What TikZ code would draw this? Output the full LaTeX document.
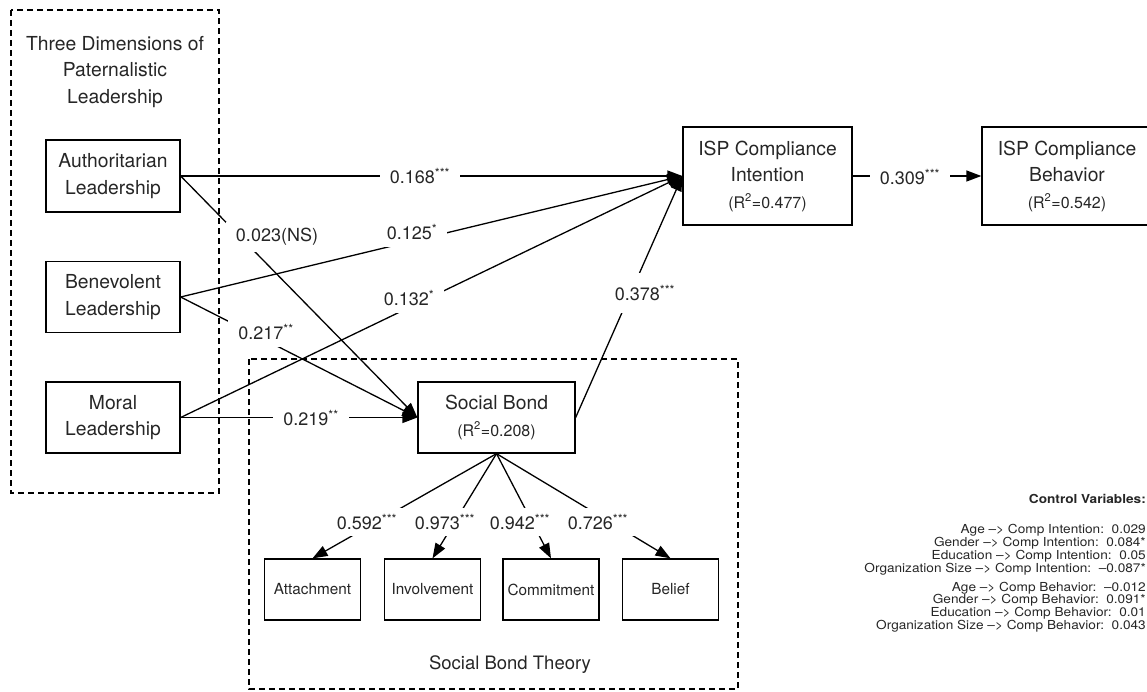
\documentclass[tikz,border=0pt]{standalone}
\usepackage{fontspec}
\usepackage{graphicx}
\setmainfont{TeX Gyre Heros}
\usetikzlibrary{arrows.meta}
\begin{document}
\begin{tikzpicture}[x=1pt,y=-1pt,
  every node/.style={text=black!85},
  box/.style={draw=black, line width=1.3pt, inner sep=0pt, align=center,
    font=\fontsize{19.3}{26.5}\selectfont},
  subbox/.style={draw=black, line width=1.3pt, minimum width=96pt, minimum height=61pt,
    inner sep=0pt, font=\fontsize{15.3}{18}\selectfont},
  path/.style={draw=black, line width=1.3pt, -{Triangle[length=15pt,width=11pt]}},
  lbl/.style={fill=white, inner xsep=10pt, inner ysep=0pt, minimum height=30pt,
    font=\fontsize{18}{20}\selectfont},
  group/.style={draw=black, line width=1.3pt, dash pattern=on 6pt off 4pt},
  ctrl/.style={anchor=east, inner sep=0pt, font=\fontsize{12.4}{12}\selectfont},
]
\useasboundingbox (0,0) rectangle (1147,692);

% grouping frames
\draw[group] (11,10) rectangle (219,493);
\draw[group] (249,359) rectangle (738,689);

% constructs
\node[box, minimum width=134pt, minimum height=72pt] (auth) at (113,176) {Authoritarian\\Leadership};
\node[box, minimum width=134pt, minimum height=71pt] (bene) at (113,297) {Benevolent\\Leadership};
\node[box, minimum width=134pt, minimum height=71pt] (moral) at (113,417.5) {Moral\\Leadership};
\node[box, minimum width=169pt, minimum height=98pt] (isi) at (767.5,176)
  {ISP Compliance\\Intention\\{\fontsize{16}{26.5}\selectfont (R\textsuperscript{2}=0.477)}};
\node[box, minimum width=170pt, minimum height=98pt] (isb) at (1067,176)
  {ISP Compliance\\Behavior\\{\fontsize{16}{26.5}\selectfont (R\textsuperscript{2}=0.542)}};
\node[box, minimum width=157pt, minimum height=71pt] (sb) at (496.5,417.5)
  {Social Bond\\{\fontsize{16}{25}\selectfont (R\textsuperscript{2}=0.208)}};

\node[subbox] (att) at (312.5,589.5) {Attachment};
\node[subbox] (inv) at (432.5,589.5) {Involvement};
\node[subbox] (com) at (551,589.5) {Commitment};
\node[subbox] (bel) at (670.5,589.5) {Belief};

% frame captions
\node[align=center, font=\fontsize{19.3}{26.5}\selectfont] (pltitle) at (115,72)
  {Three Dimensions of\\Paternalistic\\Leadership};
\node[font=\fontsize{18.5}{22}\selectfont] (sbtitle) at (510,665) {Social Bond Theory};

% structural paths
\draw[path] (auth.east) -- (isi.west);
\draw[path] (auth.east) -- (sb.west);
\draw[path] (bene.east) -- (isi.west);
\draw[path] (bene.east) -- (sb.west);
\draw[path] (moral.east) -- (isi.west);
\draw[path] (moral.east) -- (sb.west);
\draw[path] (sb.east) -- (isi.west);
\draw[path] (isi.east) -- (isb.west);

% measurement paths
\draw[path] (sb.south) -- (att.north);
\draw[path] (sb.south) -- (inv.north);
\draw[path] (sb.south) -- (com.north);
\draw[path] (sb.south) -- (bel.north);

% path coefficients
\node[lbl] (c1) at (420,176) {0.168\textsuperscript{***}};
\node[lbl] (c2) at (412,232) {0.125\textsuperscript{*}};
\node[lbl] (c3) at (409,298) {0.132\textsuperscript{*}};
\node[lbl] (c4) at (277,237) {0.023(NS)};
\node[lbl] (c5) at (266,332) {0.217\textsuperscript{**}};
\node[lbl] (c6) at (311,418) {0.219\textsuperscript{**}};
\node[lbl, minimum height=40pt] (c7) at (645,293) {0.378\textsuperscript{***}};
\node[lbl] (c8) at (910,177) {0.309\textsuperscript{***}};
\node[lbl, minimum height=28pt] (c9) at (367,522) {0.592\textsuperscript{***}};
\node[lbl, minimum height=28pt] (c10) at (445,522) {0.973\textsuperscript{***}};
\node[lbl, minimum height=28pt] (c11) at (520,522) {0.942\textsuperscript{***}};
\node[lbl, minimum height=28pt] (c12) at (598,522) {0.726\textsuperscript{***}};

% control variables
\node[ctrl, font=\bfseries\fontsize{12.4}{12}\selectfont] (cvh) at (1146,499)
  {\scalebox{1.1}[1]{Control Variables:}};
\node[ctrl] (cv1) at (1146,550) {\scalebox{1.1}[1]{\renewcommand\arraystretch{1}%
  \begin{tabular}{@{}r@{}}
  Age –> Comp Intention:~~0.029\\
  Gender –> Comp Intention:~~0.084*\\
  Education –> Comp Intention:~~0.05\\
  Organization Size –> Comp Intention:~~–0.087*
  \end{tabular}}};
\node[ctrl] (cv2) at (1146,607.5) {\scalebox{1.1}[1]{\renewcommand\arraystretch{1}%
  \begin{tabular}{@{}r@{}}
  Age –> Comp Behavior:~~–0.012\\
  Gender –> Comp Behavior:~~0.091*\\
  Education –> Comp Behavior:~~0.01\\
  Organization Size –> Comp Behavior:~~0.043
  \end{tabular}}};
\end{tikzpicture}
\end{document}
